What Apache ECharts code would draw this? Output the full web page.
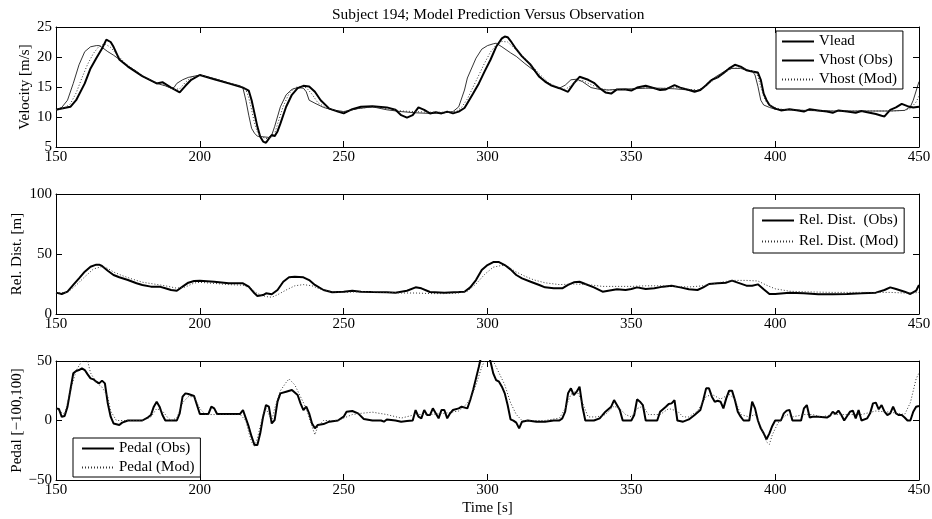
<!DOCTYPE html>
<html>
<head>
<meta charset="utf-8">
<script src="https://cdn.jsdelivr.net/npm/echarts@6/dist/echarts.min.js"></script>
<style>
  html, body { margin: 0; padding: 0; background: #fff; }
  #main { width: 932px; height: 519px; }
</style>
</head>
<body>
<div id="main"></div>
<script>
// time [s] / value pairs
var vlead = [[150,11.2],[152,11.6],[154,12.8],[156,15.6],[158,18.7],[160,20.9],[162,21.7],[164,21.9],[165,21.9],[166,21.6],[168,20.9],[170,20.3],[172,19.6],[175,18.5],[178,17.6],[180,16.8],[183,16.1],[185,15.6],[188,15.2],[190,14.8],[191,14.9],[192,15.6],[194,16.2],[196,16.6],[198,16.8],[200,17.0],[205,16.4],[210,15.7],[214,15.2],[215,14.8],[216,12.8],[217,10.3],[218,8.1],[219,7.3],[220,6.8],[222,6.7],[224,6.6],[225,7.0],[226,8.4],[228,11.7],[230,13.7],[232,14.6],[234,14.9],[236,14.8],[237,14.2],[238,12.8],[240,12.3],[243,11.6],[246,11.2],[250,10.9],[255,11.4],[260,11.7],[265,11.2],[270,10.9],[275,10.7],[280,10.6],[285,10.7],[288,10.9],[290,11.7],[292,14.5],[293,16.5],[296,19.8],[298,21.3],[300,21.9],[302,22.2],[303,22.3],[305,21.7],[308,20.7],[310,20.1],[313,18.9],[316,17.8],[319,16.4],[322,15.3],[325,14.8],[327,15.3],[329,16.2],[331,16.3],[333,15.9],[336,14.9],[339,14.6],[342,14.5],[345,14.6],[350,14.7],[355,14.8],[360,14.8],[365,14.7],[370,14.5],[373,14.4],[375,14.9],[377,15.9],[379,16.6],[381,17.2],[383,17.8],[385,18.1],[388,18.1],[390,17.8],[392,17.7],[393,17.0],[394,15.1],[395,12.8],[396,12.0],[398,11.6],[400,11.3],[405,11.2],[410,11.1],[420,11.0],[430,11.0],[440,11.0],[445,11.1],[447,11.7],[448,12.8],[450,15.9]];

var vhostObs = [[150,11.2],[152,11.4],[155,11.7],[157,12.8],[160,15.6],[162,18.1],[164,19.8],[166,21.4],[167.5,22.9],[169,22.5],[170,21.7],[172,19.6],[175,18.4],[180,16.8],[185,15.6],[187,15.8],[190,14.9],[193,14.1],[195,15.2],[197,16.2],[200,17.0],[205,16.3],[210,15.6],[215,14.9],[217,14.4],[218,12.8],[219,10.6],[220,8.4],[221,6.7],[222,5.9],[223,5.7],[224,6.4],[225,7.0],[226,6.8],[227,7.6],[228,8.9],[230,11.7],[232,13.7],[234,14.8],[236,15.2],[238,15.1],[240,14.2],[242,12.8],[245,11.4],[248,10.9],[250,10.6],[253,11.3],[256,11.7],[260,11.8],[265,11.6],[268,11.2],[270,10.3],[272,9.9],[274,10.3],[276,11.6],[278,11.2],[280,10.6],[282,10.8],[284,10.6],[286,10.9],[288,10.6],[290,10.9],[292,11.5],[293,12.3],[295,13.9],[297,15.6],[299,17.6],[301,19.5],[303,21.7],[305,23.1],[306,23.4],[307,23.3],[308,22.7],[310,21.3],[312,20.1],[315,18.7],[318,16.7],[320,15.9],[322,15.3],[325,14.8],[328,14.2],[330,15.6],[332,16.7],[335,16.2],[337,15.7],[339,14.8],[341,14.1],[343,13.9],[345,14.6],[348,14.6],[350,14.4],[352,14.9],[355,15.2],[358,14.8],[360,14.5],[362,14.6],[365,15.3],[367,14.9],[370,14.5],[372,14.2],[374,14.5],[376,15.3],[378,16.2],[380,16.6],[382,17.3],[384,18.1],[386,18.7],[388,18.4],[390,17.8],[392,17.6],[394,17.4],[395,16.2],[396,13.9],[397,12.8],[398,12.0],[400,11.4],[402,11.1],[405,11.3],[408,11.1],[410,10.9],[412,11.3],[415,11.1],[418,10.9],[420,10.7],[422,11.1],[425,10.9],[428,10.7],[430,11.0],[432,10.8],[435,10.5],[437,10.2],[438,10.1],[440,11.2],[442,11.6],[444,12.2],[446,11.8],[448,11.6],[450,11.7]];

var vhostMod = [[150,11.2],[153,11.5],[155,12.2],[157,14.0],[159,16.5],[161,18.8],[163,20.6],[165,21.8],[167,22.2],[169,21.6],[171,20.5],[174,19.0],[177,17.9],[180,16.9],[184,15.9],[188,15.2],[191,14.6],[193,14.7],[195,15.8],[197,16.6],[200,17.0],[205,16.4],[210,15.7],[215,15.0],[216,14.6],[217,13.2],[218,11.2],[219,9.0],[220,7.5],[221,6.8],[223,6.4],[225,6.6],[226,7.2],[227,8.8],[229,11.8],[231,13.9],[233,14.9],[235,15.1],[237,14.9],[239,13.8],[241,12.4],[244,11.5],[248,11.0],[250,10.9],[255,11.4],[260,11.7],[265,11.4],[270,11.0],[275,10.9],[280,10.8],[285,10.8],[289,10.9],[291,11.6],[293,13.0],[295,15.0],[297,17.0],[299,19.0],[301,20.8],[303,22.0],[305,22.6],[307,22.5],[309,21.6],[312,20.3],[315,18.8],[318,17.2],[321,15.8],[324,15.0],[327,14.6],[329,15.2],[331,16.0],[333,16.1],[336,15.4],[339,14.8],[342,14.5],[346,14.6],[350,14.6],[355,14.9],[360,14.7],[365,15.0],[370,14.6],[373,14.5],[375,14.8],[377,15.6],[379,16.3],[381,16.9],[383,17.6],[385,18.1],[388,18.2],[391,17.8],[393,17.5],[394,16.8],[395,15.0],[396,13.4],[397,12.4],[399,11.7],[402,11.3],[410,11.1],[420,11.0],[430,11.0],[440,11.0],[445,11.1],[447,11.4],[449,12.5],[450,13.5]];

var distObs = [[150,17.8],[152,16.7],[154,18.6],[156,24.2],[158,29.7],[160,35.3],[162,39.4],[164,41.1],[165,41.1],[166,40.0],[168,36.1],[170,32.5],[172,30.6],[175,28.3],[178,25.6],[180,24.2],[183,22.8],[186,22.8],[188,21.4],[190,20.0],[192,19.4],[194,22.8],[196,26.1],[198,27.5],[200,27.8],[205,26.9],[210,25.6],[215,25.6],[217,22.8],[219,17.2],[220,15.0],[222,15.8],[223,17.2],[225,16.4],[227,20.0],[229,26.9],[231,30.6],[233,31.1],[236,30.6],[238,28.3],[240,24.2],[243,20.0],[246,18.1],[250,18.6],[253,19.4],[256,18.6],[260,18.3],[265,18.1],[268,17.8],[272,19.4],[275,22.2],[277,21.4],[280,18.3],[285,17.8],[290,18.3],[292,18.6],[294,22.2],[296,28.3],[298,36.7],[300,40.8],[302,43.3],[304,43.3],[306,40.8],[308,37.2],[310,32.5],[312,29.7],[315,26.9],[318,24.2],[320,22.2],[323,21.4],[326,21.4],[328,24.2],[330,26.4],[332,26.9],[334,25.0],[337,22.2],[340,18.6],[342,19.4],[345,20.6],[348,20.0],[350,20.8],[352,22.2],[355,20.8],[358,21.4],[361,22.8],[364,23.6],[367,22.2],[370,20.6],[373,20.0],[375,22.2],[377,25.0],[380,25.6],[383,26.1],[385,27.8],[387,26.1],[390,23.6],[392,23.6],[394,24.7],[396,20.6],[398,16.7],[400,16.7],[405,17.8],[410,17.2],[415,16.4],[420,16.4],[425,16.7],[430,17.2],[435,17.8],[438,20.0],[440,22.2],[442,20.8],[445,18.6],[447,16.7],[449,19.4],[450,24.2]];

var distMod = [[150,17.5],[154,18.0],[157,24.0],[160,31.0],[163,37.5],[166,39.5],[168,38.0],[170,35.0],[173,32.0],[176,29.5],[180,26.5],[184,25.0],[188,23.5],[192,21.5],[195,22.5],[198,25.8],[200,26.4],[205,25.5],[210,24.5],[215,24.0],[218,21.0],[220,17.0],[223,14.5],[225,14.0],[227,16.0],[230,20.0],[233,23.5],[236,24.5],[239,23.5],[242,20.5],[246,18.5],[250,18.0],[255,18.5],[260,18.5],[265,18.0],[270,17.5],[275,17.5],[280,17.0],[285,17.0],[290,17.5],[293,19.0],[296,25.0],[299,33.0],[302,39.0],[305,40.5],[307,39.5],[310,35.0],[313,31.5],[316,28.5],[320,26.0],[325,24.5],[330,25.0],[335,24.5],[340,23.0],[345,23.0],[350,23.0],[355,23.5],[360,23.5],[365,23.0],[370,22.5],[375,23.5],[380,26.0],[385,28.0],[390,28.0],[394,27.5],[397,24.0],[400,21.0],[405,19.0],[410,18.5],[420,18.0],[430,18.0],[440,18.0],[445,17.5],[448,17.5],[450,18.0]];

var pedalObs = [[150,10.2],[151,9.7],[152,3.1],[153,3.8],[154,11.6],[155,25.6],[156,39.6],[157,41.6],[158,42.4],[159,43.8],[160,42.4],[161,38.8],[162,35.4],[163,34.6],[164,32.6],[165,31.2],[166,33.5],[167,31.2],[168,14.4],[169,3.2],[170,-2.5],[172,-3.8],[173,-1.8],[175,0],[180,0],[182,2.7],[183,4.6],[184,11.6],[185,15.8],[186,11.6],[187,4.6],[188,0],[192,0],[193,6],[194,20],[195,22.8],[196,22.3],[198,20.6],[199,13],[200,5.5],[203,5.5],[204,11.6],[205,10.2],[206,5.5],[214,5.5],[215,8.8],[216,1.8],[217,-5.2],[218,-13.6],[219,-20.6],[220,-20.6],[221,-10.8],[222,3.2],[223,13],[224,11.6],[225,-2.5],[226,0.4],[227,15.8],[228,22.8],[230,24.2],[232,25.6],[234,21.4],[235,14.4],[236,8.8],[237,11.6],[238,6],[239,-2.5],[240,-6.6],[241,-3.8],[243,-3],[245,-1],[248,0],[250,3.2],[251,7.4],[253,8],[255,6],[257,1.3],[260,0],[263,0],[264,-1],[265,0.9],[268,0],[270,-1],[272,-0.5],[274,0],[275,8.8],[276,3.2],[277,1.8],[278,8.8],[279,4.6],[280,4.6],[281,10.2],[282,6],[283,1.8],[284,8.8],[285,8.8],[286,1.8],[287,6],[288,8.8],[290,10.2],[291,11.6],[293,10.2],[294,17.2],[295,25.6],[296,35.4],[297,45.2],[298,56],[299,60],[300,56],[301,50],[302,39.6],[303,34],[304,32.6],[305,28.4],[306,22.8],[307,13],[308,1],[309,-0.1],[310,-1.8],[311,-6.6],[312,-1],[314,0],[317,-1],[320,-1],[323,0],[325,0],[326,1.8],[327,7.4],[328,22.8],[329,27],[330,21.4],[331,24.2],[332,28.4],[333,11.6],[334,0],[337,0],[339,1.8],[341,7.4],[343,11.6],[344,17.2],[345,13],[346,8.8],[347,0],[350,0],[351,4.6],[352,17.8],[353,15.8],[354,13],[355,0],[359,0],[360,7.4],[362,11.6],[363,13.9],[364,14.4],[365,17.2],[366,0],[368,-1],[370,0.9],[372,4.6],[374,8.8],[375,17.2],[376,27],[377,27],[378,20],[379,15.8],[380,16.6],[381,15.8],[382,10.2],[383,18.6],[384,25.1],[385,25.1],[386,17.2],[387,7.4],[388,3.2],[389,0],[391,0],[392,15.8],[393,10.2],[394,0],[395,-6.6],[396,-10.8],[397,-15.8],[398,-10.8],[399,-4.6],[400,0],[402,0],[403,6],[404,8.3],[405,8.8],[406,0],[409,0],[410,10.2],[411,13],[412,2.5],[413,3.2],[415,3.2],[418,2.5],[419,3.8],[420,7.4],[421,5.5],[422,8.3],[423,4.6],[424,0],[426,7.4],[427,8.3],[428,1.8],[429,8.8],[430,0],[432,1.8],[433,6],[434,14.4],[435,15],[436,9.4],[437,13],[438,7.4],[439,4.6],[440,6],[441,11.6],[442,6],[443,4.6],[444,4.6],[445,2.5],[446,0],[447,0],[448,7.4],[449,11.6],[450,12.2]];

var pedalMod = [[150,10],[153,5],[155,25],[157,42],[159,50],[160,52],[161,50],[162,40],[164,32],[166,28],[168,20],[169,8],[171,0],[175,0],[180,0],[183,3],[185,10],[187,8],[189,2],[190,0],[192,2],[194,15],[196,20],[198,20],[200,10],[202,5],[205,5],[210,5],[214,5],[216,0],[217,-10],[218,-18],[219,-22],[220,-15],[221,-5],[222,5],[223,10],[224,5],[225,0],[226,10],[228,25],[230,32],[231,35],[233,30],[235,20],[237,10],[239,-5],[240,-12],[241,-5],[243,0],[248,0],[250,2],[253,5],[256,6],[260,7],[265,5],[270,2],[275,5],[280,5],[285,6],[290,8],[292,12],[294,18],[296,30],[298,45],[300,55],[302,50],[304,40],[306,30],[308,15],[310,5],[312,0],[315,0],[320,0],[325,2],[327,10],[329,22],[331,25],[333,15],[335,3],[338,3],[341,5],[344,12],[346,10],[348,5],[350,3],[352,10],[354,12],[356,5],[360,5],[363,10],[366,8],[368,3],[370,3],[373,8],[376,20],[378,22],[381,18],[384,22],[386,18],[388,5],[391,3],[393,5],[395,-5],[397,-18],[398,-20],[399,-12],[401,-2],[404,5],[406,3],[410,5],[413,5],[416,3],[420,5],[425,5],[430,5],[435,8],[440,7],[445,5],[447,15],[448,25],[449,35],[450,40]];

var xTicks = { min: 150, max: 450, interval: 50 };
var yRanges = [
  { min: 5, max: 25, interval: 5, name: 'Velocity [m/s]', gap: 23 },
  { min: 0, max: 100, interval: 50, name: 'Rel. Dist. [m]', gap: 31 },
  { min: -50, max: 50, interval: 50, name: 'Pedal [\u2212100,100]', gap: 31 }
];

var font = "'Liberation Serif', 'DejaVu Serif', serif";
var grids = [
  { left: 56, right: 13, top: 27, height: 120, outerBoundsMode: 'none' },
  { left: 56, right: 13, top: 194, height: 120, outerBoundsMode: 'none' },
  { left: 56, right: 13, top: 361, height: 119, outerBoundsMode: 'none' }
];

var xAxes = [], yAxes = [];
grids.forEach(function (g, i) {
  xAxes.push({
    type: 'value', gridIndex: i, min: xTicks.min, max: xTicks.max, interval: xTicks.interval,
    position: 'bottom',
    axisLine: { onZero: false, lineStyle: { color: '#000', width: 1 } },
    axisTick: { inside: true, length: 6, lineStyle: { color: '#000' } },
    axisLabel: { color: '#000', fontSize: 15, fontFamily: font, margin: 3 },
    splitLine: { show: false },
    name: i === 2 ? 'Time [s]' : '', nameLocation: 'middle', nameGap: 21, nameMoveOverlap: false,
    nameTextStyle: { color: '#000', fontSize: 15, fontFamily: font }
  });
  xAxes.push({
    type: 'value', gridIndex: i, min: xTicks.min, max: xTicks.max, interval: xTicks.interval,
    position: 'top',
    axisLine: { onZero: false, lineStyle: { color: '#000', width: 1 } },
    axisTick: { inside: true, length: 6, lineStyle: { color: '#000' } },
    axisLabel: { show: false },
    splitLine: { show: false }
  });
  var r = yRanges[i];
  yAxes.push({
    type: 'value', gridIndex: i, min: r.min, max: r.max, interval: r.interval,
    position: 'left',
    axisLine: { show: true, onZero: false, lineStyle: { color: '#000', width: 1 } },
    axisTick: { show: true, inside: true, length: 6, lineStyle: { color: '#000' } },
    axisLabel: {
      color: '#000', fontSize: 15, fontFamily: font, margin: 4,
      formatter: function (v) { return String(v).replace('-', '\u2212'); }
    },
    splitLine: { show: false },
    name: r.name, nameLocation: 'middle', nameRotate: 90, nameGap: r.gap, nameMoveOverlap: false,
    nameTextStyle: { color: '#000', fontSize: 15, fontFamily: font }
  });
  yAxes.push({
    type: 'value', gridIndex: i, min: r.min, max: r.max, interval: r.interval,
    position: 'right',
    axisLine: { show: true, onZero: false, lineStyle: { color: '#000', width: 1 } },
    axisTick: { show: true, inside: true, length: 6, lineStyle: { color: '#000' } },
    axisLabel: { show: false },
    splitLine: { show: false }
  });
});

var thick = { color: '#000', width: 2 };
var thin = { color: '#000', width: 0.8 };
var dots = { color: '#333', width: 1, type: [1, 2] };

function line(name, data, gi, style) {
  return {
    type: 'line', name: name, data: data,
    xAxisIndex: gi * 2, yAxisIndex: gi * 2,
    symbol: 'none', clip: true, color: style.color,
    lineStyle: style
  };
}

function legendBox(names, left, top, pad, gap) {
  return {
    data: names, orient: 'vertical', left: left, top: top,
    selectedMode: false, backgroundColor: '#fff',
    borderColor: '#000', borderWidth: 1, padding: pad, itemGap: gap,
    itemWidth: 32, itemHeight: 14,
    itemStyle: { opacity: 0 },
    textStyle: { color: '#000', fontSize: 15, fontFamily: font }
  };
}

var myChart = echarts.init(document.getElementById('main'));
myChart.setOption({
  animation: false,
  title: {
    text: 'Subject 194; Model Prediction Versus Observation',
    left: 327, top: 2,
    textStyle: { color: '#000', fontSize: 15.4, fontWeight: 'normal', fontFamily: font }
  },
  legend: [
    legendBox(['Vlead', 'Vhost (Obs)', 'Vhost (Mod)'], 776, 31, [3, 6, 2, 5], 4),
    legendBox(['Rel. Dist.  (Obs)', 'Rel. Dist. (Mod)'], 753, 208, [5, 6, 4, 8], 6),
    legendBox(['Pedal (Obs)', 'Pedal (Mod)'], 73, 438, [3, 6, 2, 8], 4)
  ],
  grid: grids,
  xAxis: xAxes,
  yAxis: yAxes,
  series: [
    line('Vlead', vlead, 0, thin),
    line('Vhost (Obs)', vhostObs, 0, thick),
    line('Vhost (Mod)', vhostMod, 0, dots),
    line('Rel. Dist.  (Obs)', distObs, 1, thick),
    line('Rel. Dist. (Mod)', distMod, 1, dots),
    line('Pedal (Obs)', pedalObs, 2, thick),
    line('Pedal (Mod)', pedalMod, 2, dots)
  ]
});
</script>
</body>
</html>
